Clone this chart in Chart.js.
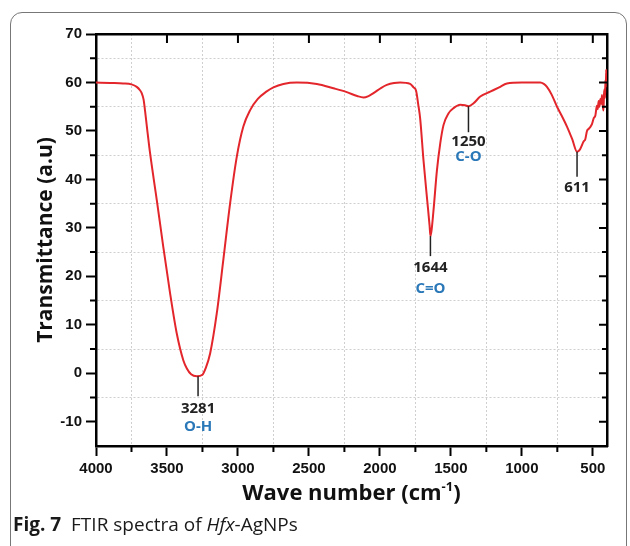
<!DOCTYPE html>
<html>
<head>
<meta charset="utf-8">
<script src="https://cdn.jsdelivr.net/npm/chart.js@4.4.1/dist/chart.umd.min.js"></script>
<style>
  body { margin: 0; background: #fff; }
  #wrap { position: relative; width: 630px; height: 546px; overflow: hidden; }
  #frame { position: absolute; left: 10px; top: 12px; width: 615px; height: 545px;
           border: 1.5px solid #777; border-radius: 12px; }
  #chart { position: absolute; left: 0; top: 0; }
  #caption { position: absolute; left: 13px; top: 511px; font-family: 'Open Sans', sans-serif;
             font-size: 19px; color: #1a1a1a; white-space: nowrap; }
</style>
</head>
<body>
<div id="wrap">
  <div id="frame"></div>
  <canvas id="chart" width="630" height="546"></canvas>
  <div id="caption"><b>Fig. 7</b>&nbsp; FTIR spectra of <i>Hfx</i>-AgNPs</div>
</div>
<script>
// spectrum (wave number cm-1 -> transmittance)
const waveNumbers = [4000, 3900, 3808, 3750, 3713, 3690, 3678, 3665, 3655, 3640, 3619, 3572, 3526, 3478,
  3431, 3385, 3360, 3330, 3290, 3250, 3228, 3196, 3149, 3103, 3055, 3008, 2962, 2914, 2860, 2800, 2750,
  2680, 2585, 2444, 2327, 2233, 2160, 2116, 2080, 2045, 1990, 1951, 1900, 1857, 1787, 1763, 1745, 1730,
  1716, 1693, 1667, 1650, 1644, 1636, 1622, 1598, 1575, 1552, 1517, 1481, 1434, 1400, 1376, 1340, 1293,
  1223, 1160, 1105, 1000, 870, 845, 823, 790, 752, 720, 682, 645, 611, 590, 565, 553, 541, 530, 518, 506,
  494, 482, 471, 465, 459, 453, 447, 441, 435, 430, 425, 421, 417, 414, 411, 408, 406, 403, 401];
const transmittance = [60.0, 59.9, 59.8, 59.6, 59.1, 58.4, 57.8, 56.5, 54.3, 50.5, 45.4, 35.8, 26.1, 16.5,
  8.2, 2.7, 1.0, -0.2, -0.6, -0.3, 1.0, 4.1, 12.4, 23.4, 35.1, 44.7, 50.9, 54.3, 56.6, 58.1, 59.0,
  59.7, 60.0, 59.7, 58.8, 58.0, 57.2, 56.9, 57.2, 57.8, 58.9, 59.5, 59.9, 60.0, 59.7, 59.0, 58.3, 55.5,
  52.5, 44.0, 35.8, 30.5, 28.3, 29.5, 33.7, 41.9, 47.4, 51.2, 53.6, 54.7, 55.4, 55.3, 55.1, 55.7, 57.1,
  58.1, 59.0, 59.8, 60.0, 60.0, 59.7, 59.1, 57.5, 55.0, 53.2, 50.9, 48.3, 45.7, 46.2, 47.8, 48.3, 50.0, 50.4, 50.8, 51.4,
  52.6, 53.2, 55.2, 54.5, 56.2, 55.0, 56.6, 55.6, 57.4, 55.2, 54.2, 57.6, 58.6, 56.8, 60.5, 59.0, 62.6, 60.2, 61.8];

// axis ticks
const xTickValues = [4000, 3750, 3500, 3250, 3000, 2750, 2500, 2250, 2000, 1750, 1500, 1250, 1000, 750, 500];
const yTickValues = [70, 65, 60, 55, 50, 45, 40, 35, 30, 25, 20, 15, 10, 5, 0, -5, -10, -15];

// peak annotations
const peakWaves = [3281, 1644, 1376, 611];
const peakDepths = [-0.6, 28.3, 55.1, 45.7];
const peakLabels = ['3281', '1644', '1250', '611'];
const peakGroups = ['O-H', 'C=O', 'C-O', ''];

const isMinorX = v => v % 500 !== 0;
const isMinorY = v => v % 10 !== 0;

const extras = {
  id: 'extras',
  afterDatasetsDraw(chart) {
    const {ctx, chartArea: a, scales: {x, y}} = chart;
    ctx.save();
    ctx.strokeStyle = '#000';
    ctx.lineWidth = 2;
    ctx.beginPath();
    // inward ticks on the top and right frame
    xTickValues.filter(v => !isMinorX(v) && v < 4000).forEach(v => {
      const px = x.getPixelForValue(v);
      ctx.moveTo(px, a.top);
      ctx.lineTo(px, a.top + 9);
    });
    yTickValues.filter(v => v < 70 && v > -15).forEach(v => {
      const py = y.getPixelForValue(v);
      ctx.moveTo(a.right, py);
      ctx.lineTo(a.right - (isMinorY(v) ? 5 : 8), py);
    });
    // short minor ticks on left and bottom axes
    xTickValues.filter(isMinorX).forEach(v => {
      const px = x.getPixelForValue(v);
      ctx.moveTo(px, a.bottom);
      ctx.lineTo(px, a.bottom + 6);
    });
    yTickValues.filter(v => isMinorY(v) && v > -15).forEach(v => {
      const py = y.getPixelForValue(v);
      ctx.moveTo(a.left, py);
      ctx.lineTo(a.left - 6, py);
    });
    ctx.stroke();

    // peak markers
    const stem = [20, 20, 26, 25];
    const gap = [13, 12, 10, 11];
    const gap2 = [18, 21, 15, 0];
    ctx.strokeStyle = '#222';
    ctx.lineWidth = 1.5;
    ctx.textAlign = 'center';
    ctx.textBaseline = 'middle';
    peakWaves.forEach((w, i) => {
      const px = x.getPixelForValue(w);
      const py = y.getPixelForValue(peakDepths[i]);
      ctx.beginPath();
      ctx.moveTo(px, py);
      ctx.lineTo(px, py + stem[i]);
      ctx.stroke();
      ctx.font = 'bold 15px "Open Sans"';
      ctx.fillStyle = '#222';
      ctx.fillText(peakLabels[i], px, py + stem[i] + gap[i]);
      if (peakGroups[i]) {
        ctx.fillStyle = '#2a78b8';
        ctx.fillText(peakGroups[i], px, py + stem[i] + gap[i] + gap2[i]);
      }
    });

    // x axis title with superscript
    const cx = (a.left + a.right) / 2;
    const ty = 492;
    ctx.fillStyle = '#111';
    ctx.textBaseline = 'alphabetic';
    ctx.textAlign = 'left';
    const main = 'Wave number (cm';
    const sup = '-1';
    const close = ')';
    ctx.font = 'bold 22px "Open Sans"';
    const w1 = ctx.measureText(main).width;
    const w3 = ctx.measureText(close).width;
    ctx.font = 'bold 13px "Open Sans"';
    const w2 = ctx.measureText(sup).width;
    const sx = cx - (w1 + w2 + w3) / 2;
    ctx.font = 'bold 22px "Open Sans"';
    ctx.fillText(main, sx, ty + 8);
    ctx.font = 'bold 13px "Open Sans"';
    ctx.fillText(sup, sx + w1, ty - 1);
    ctx.font = 'bold 22px "Open Sans"';
    ctx.fillText(close, sx + w1 + w2, ty + 8);
    ctx.restore();
  }
};

new Chart(document.getElementById('chart'), {
  type: 'line',
  data: {
    datasets: [{
      data: waveNumbers.map((w, i) => ({x: w, y: transmittance[i]})),
      borderColor: '#e3262b',
      borderWidth: 2,
      pointRadius: 0,
      cubicInterpolationMode: 'monotone',
      fill: false
    }]
  },
  options: {
    responsive: false,
    animation: false,
    layout: {padding: {top: 34, right: 23, left: 0, bottom: 0}},
    plugins: {legend: {display: false}, tooltip: {enabled: false}},
    scales: {
      x: {
        type: 'linear',
        reverse: true,
        min: 400,
        max: 4000,
        afterFit: s => { s.height = 100; },
        afterBuildTicks: s => { s.ticks = xTickValues.map(v => ({value: v})); },
        ticks: {
          autoSkip: false,
          maxRotation: 0,
          padding: 4,
          color: '#111',
          font: {family: 'Liberation Sans', size: 15, weight: 'bold'},
          callback: v => (isMinorX(v) ? '' : v)
        },
        grid: {
          color: c => (c.tick && isMinorX(c.tick.value) ? '#cfcfcf' : 'rgba(0,0,0,0)'),
          tickColor: c => (c.tick && isMinorX(c.tick.value) ? 'rgba(0,0,0,0)' : '#000'),
          tickWidth: 2,
          tickLength: 10,
          tickBorderDash: []
        },
        border: {color: '#000', width: 2.5, dash: [2, 2]}
      },
      y: {
        min: -15,
        max: 70,
        afterFit: s => { s.width = 96; },
        afterBuildTicks: s => { s.ticks = yTickValues.map(v => ({value: v})); },
        ticks: {
          autoSkip: false,
          padding: 4,
          color: '#111',
          font: {family: 'Liberation Sans', size: 15, weight: 'bold'},
          callback: v => (isMinorY(v) ? '' : v)
        },
        grid: {
          color: c => (c.tick && isMinorY(c.tick.value) && c.tick.value > -15 ? '#cfcfcf' : 'rgba(0,0,0,0)'),
          tickColor: c => (c.tick && isMinorY(c.tick.value) ? 'rgba(0,0,0,0)' : '#000'),
          tickWidth: 2,
          tickLength: 10,
          tickBorderDash: []
        },
        border: {color: '#000', width: 2.5, dash: [2, 2]},
        title: {
          display: true,
          text: 'Transmittance (a.u)',
          color: '#111',
          padding: {top: 33},
          font: {family: 'Open Sans', size: 21, weight: 'bold'}
        }
      },
      x2: {
        type: 'linear',
        position: 'top',
        min: 400,
        max: 4000,
        afterFit: s => { s.height = 0; },
        ticks: {display: false},
        grid: {drawOnChartArea: false, drawTicks: false},
        border: {color: '#000', width: 2.5}
      },
      y2: {
        position: 'right',
        min: -15,
        max: 70,
        afterFit: s => { s.width = 0; },
        ticks: {display: false},
        grid: {drawOnChartArea: false, drawTicks: false},
        border: {color: '#000', width: 2.5}
      }
    }
  },
  plugins: [extras]
});
</script>
</body>
</html>
